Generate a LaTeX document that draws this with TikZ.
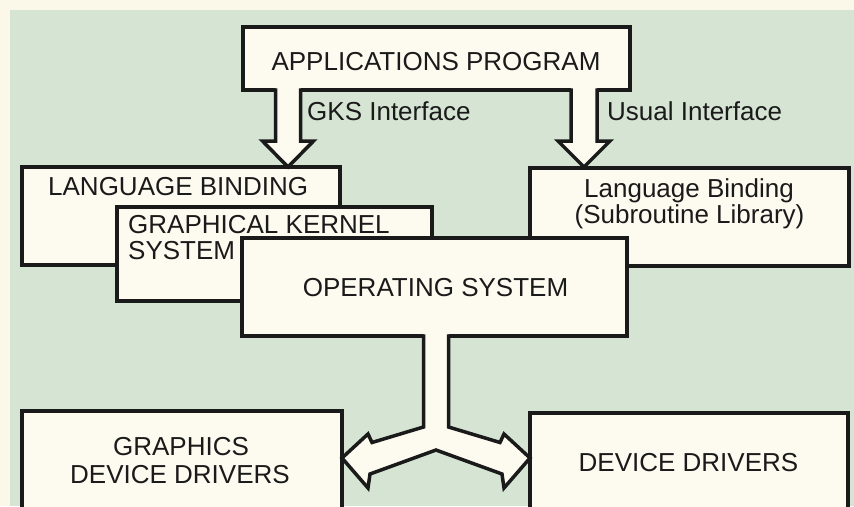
\documentclass[tikz,border=0pt]{standalone}
\usepackage{fontspec}
\setmainfont{Liberation Sans}
\usetikzlibrary{calc}
\definecolor{bggreen}{HTML}{D5E4D3}
\definecolor{paper}{HTML}{FBF8E9}
\definecolor{boxfill}{HTML}{FDFBF0}
\definecolor{ink}{HTML}{1A1A1A}
\begin{document}
\begin{tikzpicture}[x=1pt,y=-1pt,
  box/.style={draw=ink,line width=3.5pt,fill=boxfill,rectangle,inner sep=0pt,outer sep=0pt,anchor=north west},
  txt/.style={inner sep=0pt,text=ink,font=\fontsize{26}{30}\selectfont},
  blk/.style={draw=ink,line width=3.5pt,line join=miter},
  blkfill/.style={fill=boxfill}]
\useasboundingbox (0,0) rectangle (854,506);
\clip (0,0) rectangle (854,506);
\fill[paper] (0,0) rectangle (854,506);
\fill[bggreen] (10,10) rectangle (854,506);

% boxes
\node[box,minimum width=387,minimum height=63] (app) at (243,27) {};
\node[box,minimum width=318,minimum height=98] (lbL) at (22,167) {};
\node[box,minimum width=315,minimum height=94] (gks) at (117,207) {};
\node[box,minimum width=319,minimum height=98] (lbR) at (530,168) {};
\node[box,minimum width=385,minimum height=98] (os) at (242,238) {};
\node[box,minimum width=320,minimum height=130] (gdd) at (22,411) {};
\node[box,minimum width=318,minimum height=130] (dd) at (530,413) {};

% texts
\node[txt,anchor=base] (tapp) at (436,70) {APPLICATIONS PROGRAM};
\node[txt,anchor=base west] (tgksif) at (307,120) {GKS Interface};
\node[txt,anchor=base west] (tusual) at (607,120) {Usual Interface};
\node[txt,anchor=base west] (tlbL) at (48,195) {LANGUAGE BINDING};
\node[txt,anchor=base west] (tgks1) at (128,233) {GRAPHICAL KERNEL};
\node[txt,anchor=base west] (tgks2) at (128,259) {SYSTEM};
\node[txt,anchor=base] (tlbR1) at (689,197) {Language Binding};
\node[txt,anchor=base] (tlbR2) at (689.5,223) {(Subroutine Library)};
\node[txt,anchor=base] (tos) at (435.5,296) {OPERATING SYSTEM};
\node[txt,anchor=base] (tgdd1) at (181,455) {GRAPHICS};
\node[txt,anchor=base] (tgdd2) at (180,483) {DEVICE DRIVERS};
\node[txt,anchor=base] (tdd) at (688.5,471) {DEVICE DRIVERS};

% GKS interface arrow
\begin{scope}[shift={($(app.south west)+(45,0)$)}]
\fill[blkfill] (-12.5,-2) -- (12.5,-2) -- (12.5,51) -- (25.5,51) -- (0,77) -- (-25.5,51) -- (-12.5,51) -- cycle;
\draw[blk] (-12.5,-1.75) -- (-12.5,51) -- (-25.5,51) -- (0,77) -- (25.5,51) -- (12.5,51) -- (12.5,-1.75);
\end{scope}

% Usual interface arrow
\begin{scope}[shift={($(app.south west)+(341,0)$)}]
\fill[blkfill] (-13,-2) -- (13,-2) -- (13,51) -- (26,51) -- (0,77) -- (-26,51) -- (-13,51) -- cycle;
\draw[blk] (-13,-1.75) -- (-13,51) -- (-26,51) -- (0,77) -- (26,51) -- (13,51) -- (13,-1.75);
\end{scope}

% split double arrow from operating system
\begin{scope}[shift={($(os.south)+(1.5,0)$)}]
\fill[blkfill] (-12.5,-2) -- (12.5,-2) -- (12.5,91) -- (64,106.5) -- (68,98) -- (94,122) -- (68,152) -- (66,138) -- (0,114) -- (-66,138) -- (-68,152) -- (-94,122) -- (-68,98) -- (-64,106.5) -- (-12.5,91) -- cycle;
\draw[blk] (-12.5,-1.75) -- (-12.5,91) -- (-64,106.5) -- (-68,98) -- (-94,122) -- (-68,152) -- (-66,138) -- (0,114) -- (66,138) -- (68,152) -- (94,122) -- (68,98) -- (64,106.5) -- (12.5,91) -- (12.5,-1.75);
\end{scope}
\end{tikzpicture}
\end{document}
